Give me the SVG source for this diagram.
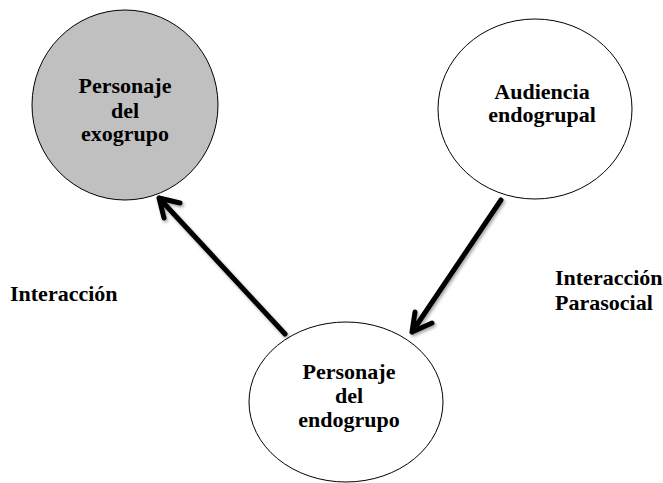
<svg xmlns="http://www.w3.org/2000/svg" width="663" height="483" viewBox="0 0 663 483">
  <style>
    .node { stroke: #000; stroke-width: 1; }
    .plain { fill: #fff; }
    .out { fill: #c0c0c0; }
    .lbl { font-family: 'Liberation Serif', 'Times New Roman', Times, serif; font-weight: 700; font-size: 22px; fill: #000; }
    .mid { text-anchor: middle; }
    .arrow { fill: none; stroke: #000; stroke-width: 5; stroke-linecap: round; stroke-linejoin: round; filter: url(#shade); }
  </style>
  <defs>
    <filter id="shade" x="-20%" y="-20%" width="140%" height="140%">
      <feDropShadow dx="1.5" dy="2" stdDeviation="1.5" flood-color="#000" flood-opacity="0.35"/>
    </filter>
  </defs>
  <rect width="663" height="483" fill="#fff"/>

  <g id="exogroup-character">
    <ellipse class="node out" cx="125" cy="105" rx="93" ry="95"/>
    <text class="lbl mid" x="125" y="93">Personaje</text>
    <text class="lbl mid" x="125" y="118">del</text>
    <text class="lbl mid" x="125" y="141">exogrupo</text>
  </g>

  <g id="ingroup-audience">
    <ellipse class="node plain" cx="535" cy="109" rx="97" ry="90"/>
    <text class="lbl mid" x="542" y="99">Audiencia</text>
    <text class="lbl mid" x="542" y="122">endogrupal</text>
  </g>

  <g id="ingroup-character">
    <ellipse class="node plain" cx="346" cy="402" rx="97" ry="80"/>
    <text class="lbl mid" x="349" y="379">Personaje</text>
    <text class="lbl mid" x="349" y="403">del</text>
    <text class="lbl mid" x="349" y="427">endogrupo</text>
  </g>

  <g id="connectors">
    <path class="arrow" d="M285 334 L159 198 M180 203 L159 198 L164 218"/>
    <path class="arrow" d="M501 200 L412 332 M432 323 L412 332 L415 312"/>
  </g>

  <g id="labels">
    <text class="lbl" x="10" y="301">Interacción</text>
    <text class="lbl" x="555" y="285">Interacción</text>
    <text class="lbl" x="555" y="310">Parasocial</text>
  </g>
</svg>
